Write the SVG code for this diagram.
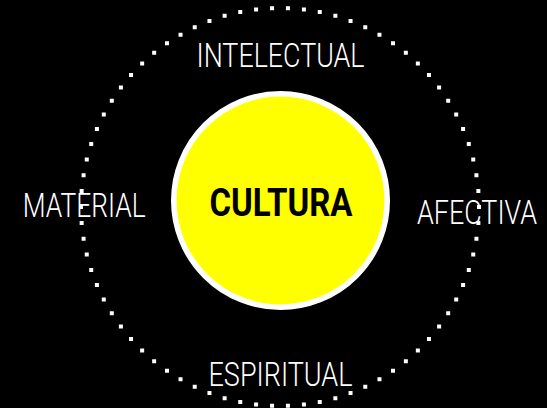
<svg xmlns="http://www.w3.org/2000/svg" width="547" height="408" viewBox="0 0 547 408">
<style>
.lbl{font-family:Roboto,"Liberation Sans",sans-serif;font-weight:300;font-size:34px;fill:#ffffff;text-anchor:middle;}
.core{font-family:Roboto,"Liberation Sans",sans-serif;font-weight:700;font-size:38px;fill:#000000;text-anchor:middle;}
</style>
<rect x="0" y="0" width="547" height="408" fill="#000000"/>
<g id="ring">
<circle cx="280" cy="207" r="199" fill="none" stroke="#ffffff" stroke-width="4" stroke-linecap="square" stroke-dasharray="0 16" pathLength="1248"/>
</g>
<g id="connectors"></g>
<g id="cultura">
<circle cx="280.5" cy="200.5" r="106.7" fill="#ffff00" stroke="#ffffff" stroke-width="5.6"/>
<text class="core" x="281" y="216" textLength="143" lengthAdjust="spacingAndGlyphs">CULTURA</text>
</g>
<g id="intelectual">
<text class="lbl" x="280.5" y="66.5" textLength="168" lengthAdjust="spacingAndGlyphs">INTELECTUAL</text>
</g>
<g id="material">
<text class="lbl" x="84.2" y="216.5" textLength="123" lengthAdjust="spacingAndGlyphs">MATERIAL</text>
</g>
<g id="afectiva">
<text class="lbl" x="477" y="224" textLength="120" lengthAdjust="spacingAndGlyphs">AFECTIVA</text>
</g>
<g id="espiritual">
<text class="lbl" x="280.5" y="386" textLength="144" lengthAdjust="spacingAndGlyphs">ESPIRITUAL</text>
</g>
</svg>
